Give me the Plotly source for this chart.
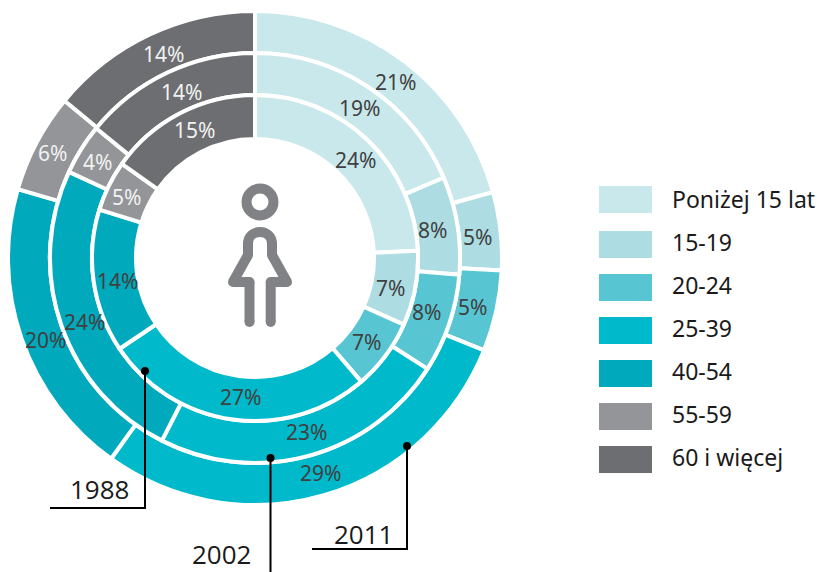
import math
import plotly.graph_objects as go

W, H = 819, 572
categories = ["Poniżej 15 lat", "15-19", "20-24", "25-39", "40-54", "55-59", "60 i więcej"]
colors = ["#C9E8EB", "#ADDDE2", "#57C6D2", "#00B9CA", "#00A9BC", "#939598", "#6D6E71"]
values_1988 = [24.3, 7.4, 7.0, 26.9, 14.2, 5.0, 15.2]
values_2002 = [18.6, 7.7, 7.8, 23.4, 24.4, 4.0, 14.1]
values_2011 = [20.7, 5.1, 5.3, 28.8, 19.6, 6.49, 14.01]
years = ["1988", "2002", "2011"]

FONT = "Noto Sans"
CX, CY = 255, 258
text_colors = ["#404041"] * 5 + ["#F1F2F2", "#F1F2F2"]

# small hand offsets of the percent labels from the ring centre line
nudge_1988 = [(3, 4), (-3, 4), (-2, 0), (4, -1), (2, 3), (-2, 1), (4, -3)]
nudge_2002 = [(3, 3), (-4, 1), (-3, -5), (4, -4), (3, 4), (-2, 2), (5, 0)]
nudge_2011 = [(4, 4), (-2, 4), (-3, 0), (2, -2), (4, 8), (-3, 1), (5, 0)]


def X(x):
    return x / W


def Y(y):
    return 1 - y / H


fig = go.Figure()
shapes, annotations = [], []
for name, vals, nudge, r_out, r_in in [
    ("2011", values_2011, nudge_2011, 247, 205),
    ("2002", values_2002, nudge_2002, 205, 163),
    ("1988", values_1988, nudge_1988, 163, 119),
]:
    fig.add_trace(go.Pie(
        name=name, labels=categories, values=vals, textinfo="none",
        marker=dict(colors=colors, line=dict(color="white", width=4)),
        sort=False, direction="clockwise", rotation=0,
        hole=r_in / r_out, showlegend=False, hoverinfo="label+percent",
        domain=dict(x=[X(CX - r_out), X(CX + r_out)], y=[Y(CY + r_out), Y(CY - r_out)]),
    ))
    total, cum, r_mid = sum(vals), 0, (r_out + r_in) / 2
    for v, tc, (dx, dy) in zip(vals, text_colors, nudge):
        a = 2 * math.pi * (cum + v / 2) / total
        cum += v
        annotations.append(dict(text=f"{round(v)}%", xref="paper", yref="paper",
                                x=X(CX + r_mid * math.sin(a) + dx), y=Y(CY - r_mid * math.cos(a) + dy),
                                xanchor="center", yanchor="middle", showarrow=False,
                                font=dict(family=FONT, size=21, color=tc)))

# legend swatches and labels
swatch_tops = [186, 231, 274, 317, 360, 403, 446]
legend_label_y = [199.5, 242, 285, 328, 371, 414, 457]
for cat, col, top, ly in zip(categories, colors, swatch_tops, legend_label_y):
    shapes.append(dict(type="rect", xref="paper", yref="paper", x0=X(599), x1=X(652),
                       y0=Y(top), y1=Y(top + 27), fillcolor=col, line_width=0))
    annotations.append(dict(text=cat, xref="paper", yref="paper", x=X(670), y=Y(ly),
                            xanchor="left", yanchor="middle", showarrow=False,
                            font=dict(family=FONT, size=23, color="#1a1a1a")))


def dot(x, y, r, color):
    return dict(type="circle", xref="paper", yref="paper", x0=X(x - r), x1=X(x + r),
                y0=Y(y + r), y1=Y(y - r), fillcolor=color, line_width=0)


def path(points, color="black", width=2):
    d = "M " + " L ".join(f"{X(a):.5f},{Y(b):.5f}" for a, b in points)
    return dict(type="path", xref="paper", yref="paper", path=d, line=dict(color=color, width=width))


# year leader lines
shapes += [
    path([(145, 371), (145, 508), (50, 508)]), dot(145, 371, 4, "black"),
    path([(270.5, 458), (270.5, 572)]), dot(270.5, 458, 4, "black"),
    path([(407, 446), (407, 549), (312, 549)]), dot(407, 446, 4, "black"),
]
for yr, (x, y) in zip(years, [(99, 489), (222, 554), (363, 534)]):
    annotations.append(dict(text=yr, xref="paper", yref="paper", x=X(x), y=Y(y),
                            xanchor="center", yanchor="middle", showarrow=False,
                            font=dict(family="Open Sans", size=26, color="#1a1a1a")))

# woman icon
ICON = "#808285"
shapes.append(dict(type="circle", xref="paper", yref="paper", x0=X(246.5), x1=X(273.5),
                   y0=Y(215.5), y1=Y(188.5), fillcolor="rgba(0,0,0,0)", line=dict(color=ICON, width=10)))
arch = (f"M {X(248):.5f},{Y(244):.5f} C {X(248):.5f},{Y(228):.5f} "
        f"{X(272):.5f},{Y(228):.5f} {X(272):.5f},{Y(244):.5f}")
shapes.append(dict(type="path", xref="paper", yref="paper", path=arch, line=dict(color=ICON, width=10)))
icon_pts = [(249.5, 322), (249.5, 282), (233, 282), (248, 255), (248, 244)]
icon_pts_r = [(272, 244), (272, 255), (287, 282), (270.7, 282), (270.7, 322)]
for pts in (icon_pts, icon_pts_r):
    for p, q in zip(pts, pts[1:]):
        shapes.append(path([p, q], ICON, 10))
    for x, y in pts:
        shapes.append(dot(x, y, 5, ICON))

fig.update_layout(width=W, height=H, margin=dict(l=0, r=0, t=0, b=0),
                  paper_bgcolor="white", shapes=shapes, annotations=annotations,
                  font=dict(family=FONT))
fig.write_html("out.html", config={"displayModeBar": False},
               post_script="document.body.style.margin='0';document.body.style.overflow='hidden';")
